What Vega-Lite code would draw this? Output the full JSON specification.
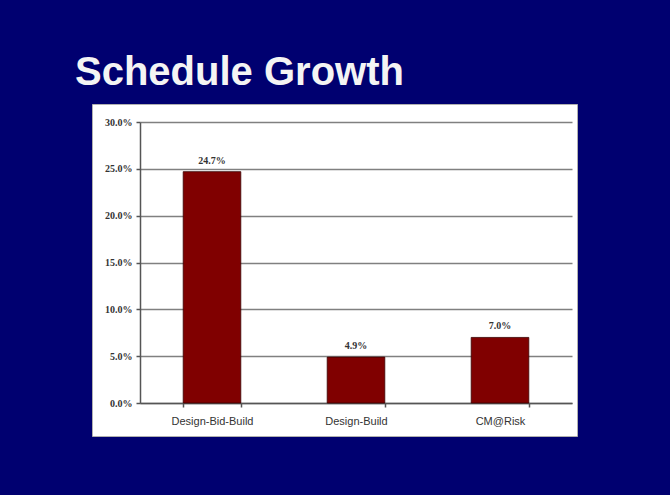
{
  "$schema": "https://vega.github.io/schema/vega-lite/v6.json",
  "width": 485,
  "height": 332,
  "autosize": {"type": "none"},
  "padding": {"left": 92, "top": 104, "right": 93, "bottom": 59},
  "background": "#000070",
  "title": {
    "text": "Schedule Growth",
    "anchor": "start",
    "frame": "group",
    "dx": -17,
    "offset": 11,
    "font": "Liberation Sans",
    "fontSize": 40,
    "fontWeight": "bold",
    "color": "#f4f4f4"
  },
  "config": {
    "view": {"fill": "white", "stroke": "#b0b0b0", "strokeWidth": 1}
  },
  "data": {
    "values": [
      {"method": "Design-Bid-Build", "growth": 0.247},
      {"method": "Design-Build", "growth": 0.049},
      {"method": "CM@Risk", "growth": 0.07}
    ]
  },
  "encoding": {
    "x": {
      "field": "method",
      "type": "nominal",
      "sort": null,
      "scale": {"range": [48, 480], "paddingInner": 0.6, "paddingOuter": 0.3},
      "axis": {
        "title": null,
        "orient": "bottom",
        "offset": -33,
        "labelAngle": 0,
        "labelFont": "Liberation Sans",
        "labelFontSize": 11,
        "labelColor": "#333333",
        "labelPadding": 8,
        "tickBand": "extent",
        "tickColor": "#555555",
        "tickSize": 4,
        "tickWidth": 1.5,
        "domainColor": "#555555",
        "domainWidth": 1.5,
        "grid": false
      }
    },
    "y": {
      "field": "growth",
      "type": "quantitative",
      "scale": {"domain": [0, 0.3], "range": [299, 18], "nice": false},
      "axis": {
        "title": null,
        "orient": "left",
        "offset": -48,
        "values": [0, 0.05, 0.1, 0.15, 0.2, 0.25, 0.3],
        "format": ".1%",
        "labelFont": "Liberation Serif",
        "labelFontWeight": "bold",
        "labelFontSize": 10,
        "labelColor": "#333333",
        "labelPadding": 4,
        "tickColor": "#555555",
        "tickSize": 4,
        "tickWidth": 1.5,
        "domainColor": "#555555",
        "domainWidth": 1.5,
        "grid": true,
        "gridColor": "#808080",
        "gridWidth": 1.5
      }
    }
  },
  "layer": [
    {
      "mark": {"type": "bar", "color": "#800000", "stroke": "#3a0000", "strokeWidth": 0.8}
    },
    {
      "mark": {
        "type": "text",
        "baseline": "bottom",
        "dy": -6,
        "font": "Liberation Serif",
        "fontWeight": "bold",
        "fontSize": 10,
        "color": "#333333"
      },
      "encoding": {
        "text": {"field": "growth", "type": "quantitative", "format": ".1%"}
      }
    }
  ]
}
